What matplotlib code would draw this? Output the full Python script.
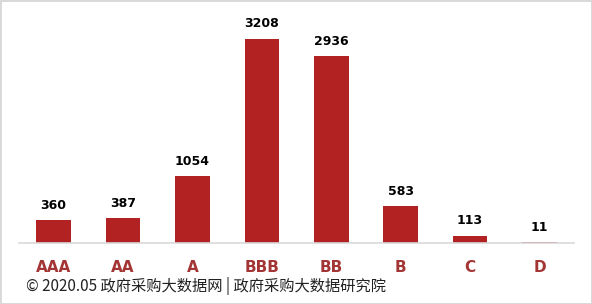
import numpy as np
import matplotlib.pyplot as plt

plt.rcParams['font.family'] = ['Noto Sans CJK SC', 'DejaVu Sans']

grades = ['AAA', 'AA', 'A', 'BBB', 'BB', 'B', 'C', 'D']
counts = [360, 387, 1054, 3208, 2936, 583, 113, 11]

fig = plt.figure(figsize=(5.92, 3.04), dpi=100, linewidth=2, edgecolor='#d9d9d9')
ax = fig.add_axes([0.032, 0.2007, 0.938, 0.733])

x = np.arange(len(grades))
bars = ax.bar(x, counts, width=0.5, color='#b22222')
for xi, v in zip(x, counts):
    ax.annotate(str(v), (xi, v), xytext=(0, 6), textcoords='offset points',
                ha='center', va='bottom', fontsize=9, fontweight='bold',
                family=['DejaVu Sans'])

ax.set_xlim(-0.5, len(grades) - 0.5)
ax.set_ylim(0, 3500)
ax.set_yticks([])
ax.set_xticks(x)
ax.set_xticklabels(grades, fontsize=11, fontweight='bold', color='#a33535',
                   family=['DejaVu Sans'])
ax.tick_params(axis='x', length=0, pad=12)
for s in ['top', 'right', 'left']:
    ax.spines[s].set_visible(False)
ax.spines['bottom'].set_color('#d9d9d9')
ax.spines['bottom'].set_linewidth(1.2)

fig.text(0.044, 0.058, '© 2020.05 政府采购大数据网 | 政府采购大数据研究院',
         fontsize=11, color='#222222', ha='left', va='center')

fig.savefig('out.png', dpi=100)
